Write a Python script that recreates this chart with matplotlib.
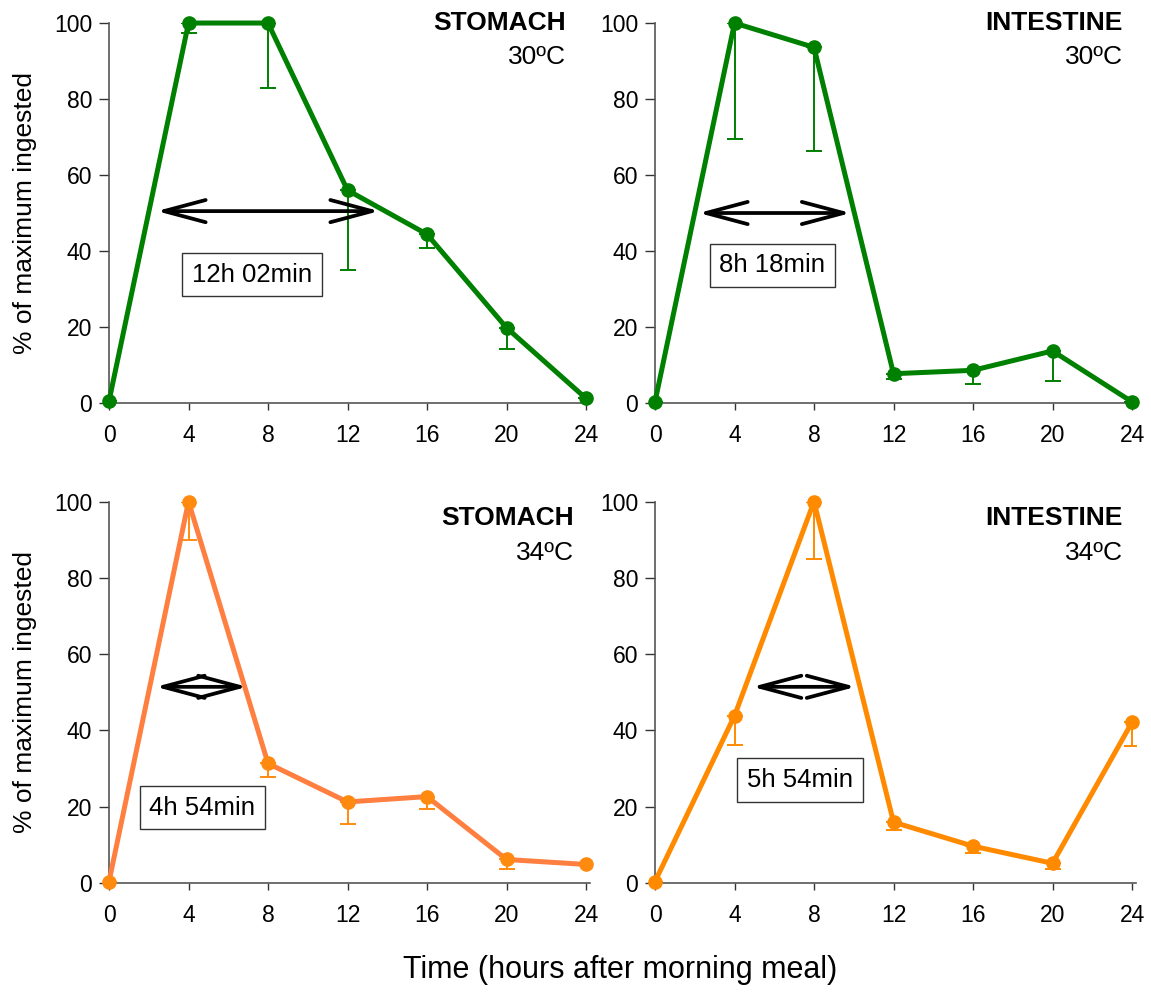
import matplotlib
matplotlib.use("Agg")
import matplotlib.pyplot as plt

plt.rcParams['font.family'] = ['Liberation Sans', 'DejaVu Sans']

hours = [0, 4, 8, 12, 16, 20, 24]

# % of maximum ingested, with lower error bars
stomach_30 = [0.5, 100, 100, 56, 44.4, 19.8, 1.2]
stomach_30_err = [0, 2.5, 17, 21, 3.5, 5.5, 0]
intestine_30 = [0.3, 100, 93.6, 7.7, 8.6, 13.7, 0.3]
intestine_30_err = [0, 30.4, 27.3, 1.5, 3.5, 7.9, 0]
stomach_34 = [0.3, 100, 31.3, 21.2, 22.6, 6.1, 4.8]
stomach_34_err = [0, 10, 3.5, 5.8, 3.3, 2.6, 0]
intestine_34 = [0.3, 43.8, 100, 15.9, 9.6, 5.1, 42.1]
intestine_34_err = [0, 7.6, 15.1, 2.1, 1.9, 1.5, 6.1]

# half-time arrows (start, end, level) and labels
arrows = [(2.4, 13.6, 50.5), (2.2, 9.85, 50), (2.35, 6.95, 51.4), (4.9, 10.1, 51.4)]
durations = ["12h 02min", "8h 18min", "4h 54min", "5h 54min"]
box_pos = [(7.2, 33.8), (5.9, 36.2), (4.7, 19.7), (7.3, 27.0)]

organs = ["STOMACH", "INTESTINE", "STOMACH", "INTESTINE"]
temps = ["30ºC", "30ºC", "34ºC", "34ºC"]

panels = [
    (stomach_30, stomach_30_err, '#008000', '#008000'),
    (intestine_30, intestine_30_err, '#008000', '#008000'),
    (stomach_34, stomach_34_err, '#FF7F40', '#FF8A10'),
    (intestine_34, intestine_34_err, '#FF8A00', '#FF8A00'),
]

fig = plt.figure(figsize=(11.51, 9.97), dpi=100)
rects = [
    [109 / 1151, 0.5958, 481 / 1151, 0.3811],
    [655 / 1151, 0.5958, 481 / 1151, 0.3811],
    [109 / 1151, 0.1146, 481 / 1151, 0.3823],
    [655 / 1151, 0.1146, 481 / 1151, 0.3823],
]

for i, (vals, err, lc, mc) in enumerate(panels):
    ax = fig.add_axes(rects[i])
    ax.errorbar(hours, vals, yerr=[err, [0] * len(err)], fmt='none',
                ecolor=mc, elinewidth=1.4, capsize=6, capthick=1.4, zorder=2)
    ax.plot(hours, vals, color=lc, lw=3.6, zorder=3, clip_on=False)
    ax.plot(hours, vals, 'o', color=mc, ms=9.5, zorder=4, clip_on=False)

    x0, x1, yy = arrows[i]
    ax.annotate('', xy=(x1, yy), xytext=(x0, yy),
                arrowprops=dict(arrowstyle='<->, head_length=1.5, head_width=0.4',
                                mutation_scale=20, lw=2.7, color='black',
                                shrinkA=0, shrinkB=0))
    bx, by = box_pos[i]
    ax.text(bx, by, durations[i], ha='center', va='center', fontsize=18.5,
            bbox=dict(boxstyle='square,pad=0.38', fc='white', ec='#333333', lw=1))

    ty = 100 if i < 2 else 95.6
    tx = 23.0 if i == 0 else (23.4 if i == 2 else 23.55)
    ax.text(tx, ty, organs[i], ha='right', va='center',
            fontsize=19, fontweight='bold')
    ax.text(tx, ty - 9, temps[i], ha='right', va='center', fontsize=19)

    ax.set_xlim(0, 24.2)
    ax.set_ylim(0, 100)
    ax.set_xticks(hours)
    ax.set_yticks([0, 20, 40, 60, 80, 100])
    for s in ['top', 'right']:
        ax.spines[s].set_visible(False)
    for s in ['left', 'bottom']:
        ax.spines[s].set_color('#555555')
        ax.spines[s].set_linewidth(1.2)
    ax.tick_params(axis='y', direction='out', length=7, width=1, color='#333333',
                   labelsize=16.5, pad=5)
    ax.tick_params(axis='x', direction='out', length=5, width=1, color='#333333',
                   labelsize=16.5, pad=10)

fig.text(25 / 1151, 0.786, '% of maximum ingested', rotation=90,
         ha='center', va='center', fontsize=19)
fig.text(25 / 1151, 0.306, '% of maximum ingested', rotation=90,
         ha='center', va='center', fontsize=19)
fig.text(0.539, 0.027, 'Time (hours after morning meal)', ha='center',
         va='center', fontsize=22)

fig.savefig('out.png', dpi=100)
